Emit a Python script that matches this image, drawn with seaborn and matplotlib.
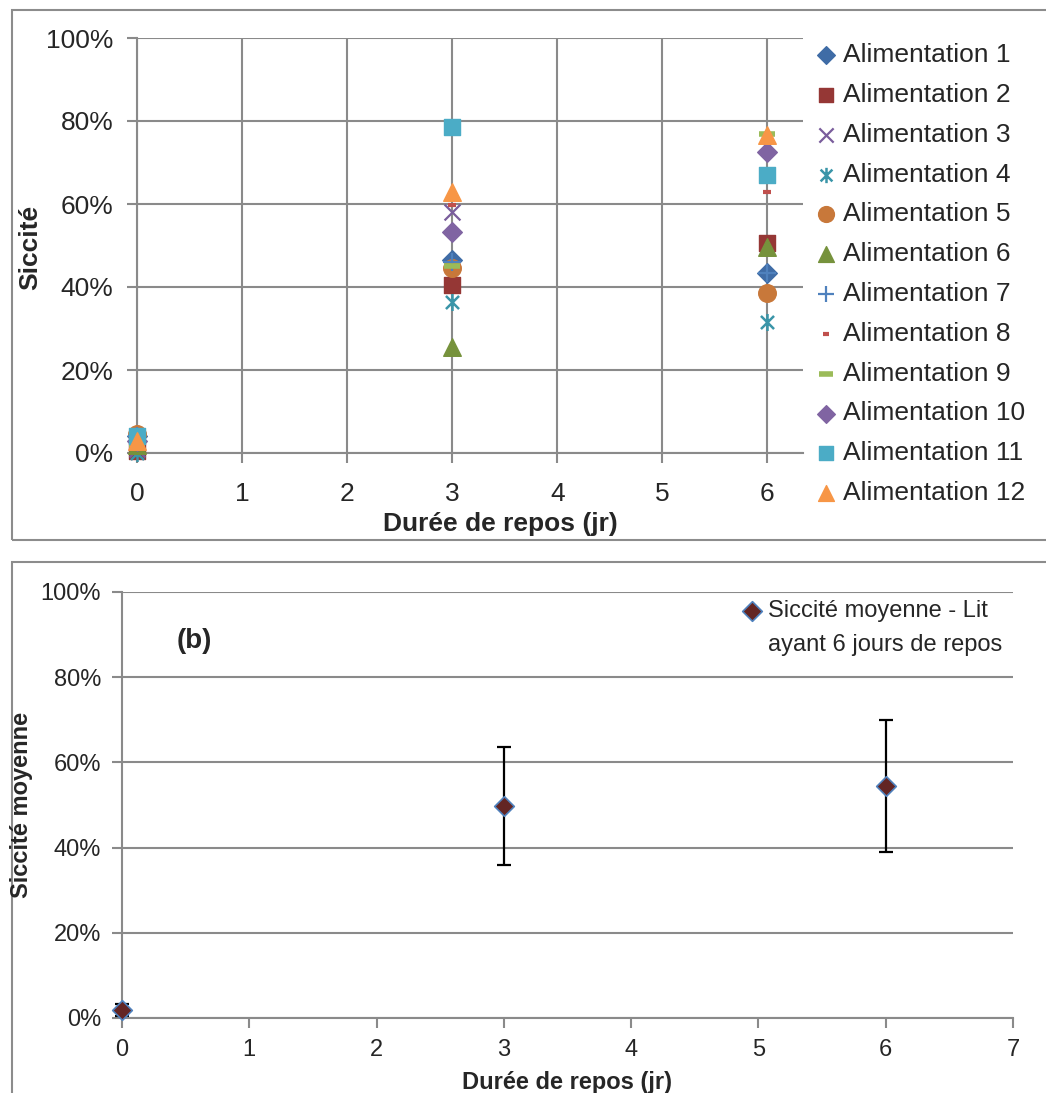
import numpy as np
import matplotlib
matplotlib.use("Agg")
import matplotlib.pyplot as plt
import seaborn as sns
from matplotlib.path import Path
from matplotlib.patches import Rectangle
from matplotlib.ticker import PercentFormatter, MultipleLocator

# durée de repos (jours)
jours = [0, 3, 6]

# siccité (%) par alimentation
alim1 = [4.0, 46.5, 43.4]
alim2 = [0.5, 40.5, 50.6]
alim3 = [1.0, 58.1, np.nan]
alim4 = [0.0, 36.4, 31.6]
alim5 = [4.5, 44.5, 38.6]
alim6 = [2.0, 25.5, 49.7]
alim7 = [4.0, 46.0, 43.4]
alim8 = [1.0, 59.8, 63.0]
alim9 = [2.0, 45.0, 76.9]
alim10 = [3.0, 53.2, 72.5]
alim11 = [4.0, 78.5, 67.0]
alim12 = [3.0, 62.9, 76.6]
series = [alim1, alim2, alim3, alim4, alim5, alim6,
          alim7, alim8, alim9, alim10, alim11, alim12]
labels = ["Alimentation %d" % i for i in range(1, 13)]

# siccité moyenne - lit ayant 6 jours de repos
moy_jours = [0, 3, 6]
moy_sicc = [1.9, 49.8, 54.5]
moy_err = [1.5, 13.8, 15.5]

W, H = 1046, 1093
sns.set_theme(style="white")
plt.rcParams['font.family'] = ['Liberation Sans', 'DejaVu Sans']

star = Path([(-1, -1), (1, 1), (-1, 1), (1, -1), (0, -1.3), (0, 1.3)],
            [Path.MOVETO, Path.LINETO] * 3)

# marker, couleur, taille, epaisseur
styles = [
    ("D", "#3F6CA6", 100, 1),
    ("s", "#953735", 140, 1),
    ("x", "#7A5D9C", 130, 1.6),
    (star, "#3A95A8", 150, 1.8),
    ("o", "#C8783A", 160, 1),
    ("^", "#76923C", 160, 1),
    ("+", "#4F81BD", 170, 1.6),
    ("_", "#C0504D", 30, 3),
    ("_", "#9BBB59", 120, 4),
    ("D", "#8064A2", 100, 1),
    ("s", "#4BACC6", 140, 1),
    ("^", "#F79646", 160, 1),
]

grid_c = "#8a8a8a"
fig = plt.figure(figsize=(W / 100, H / 100), dpi=100)

# ---- panneau (a)
ax1 = fig.add_axes([137 / W, 1 - 453 / H, (803 - 137) / W, 415 / H])
for vals, lab, (m, c, s, lw) in zip(series, labels, styles):
    kw = dict(marker=m, s=s, linewidth=lw, zorder=3)
    if m not in ("x", "+", "_"):
        kw["edgecolor"] = c
    sns.scatterplot(x=jours, y=vals, color=c, label=lab, ax=ax1, **kw)
for coll in ax1.collections:
    coll.set_clip_on(False)

ax1.set_xlim(0, 6.34)
ax1.set_ylim(0, 100)
ax1.xaxis.set_major_locator(MultipleLocator(1))
ax1.yaxis.set_major_locator(MultipleLocator(20))
ax1.yaxis.set_major_formatter(PercentFormatter(100, decimals=0))
ax1.grid(True, color=grid_c, lw=1.5)
for sp in ["top", "right"]:
    ax1.spines[sp].set_visible(False)
for sp in ["left", "bottom"]:
    ax1.spines[sp].set_color(grid_c)
    ax1.spines[sp].set_linewidth(1.5)
ax1.tick_params(axis="both", direction="out", length=7, width=1.5, color=grid_c,
                labelsize=19, left=True, bottom=True)
ax1.tick_params(axis="y", pad=10)
ax1.tick_params(axis="x", pad=14)
ax1.set_xlabel("")
ax1.set_ylabel("")
ax1.get_legend().remove()
fig.text(500 / W, 1 - 524 / H, "Durée de repos (jr)", fontsize=19, fontweight="bold",
         ha="center", va="center")
fig.text(30 / W, 1 - 247 / H, "Siccité", fontsize=19, fontweight="bold",
         rotation=90, ha="center", va="center")
h, l = ax1.get_legend_handles_labels()
fig.legend(h, l, loc="upper left", bbox_to_anchor=(814 / W, 1 - 43 / H),
           frameon=False, fontsize=19, handlelength=0.9, handletextpad=0.2,
           borderpad=0, borderaxespad=0, labelspacing=0.6, markerscale=0.9)

# ---- panneau (b)
ax2 = fig.add_axes([122 / W, 1 - 1018 / H, 891 / W, 426 / H])
eb = ax2.errorbar(moy_jours, moy_sicc, yerr=moy_err, fmt="none", ecolor="black",
                  elinewidth=1.6, capsize=5, capthick=1.6, zorder=2)
sns.scatterplot(x=moy_jours, y=moy_sicc, marker="D", s=100, color="#632523",
                edgecolor="#4F81BD", linewidth=1.2, zorder=3,
                label="Siccité moyenne - Lit", ax=ax2)
for art in ax2.collections + list(eb.lines[1]):
    art.set_clip_on(False)
ax2.set_xlim(0, 7)
ax2.set_ylim(0, 100)
ax2.xaxis.set_major_locator(MultipleLocator(1))
ax2.yaxis.set_major_locator(MultipleLocator(20))
ax2.yaxis.set_major_formatter(PercentFormatter(100, decimals=0))
ax2.grid(True, axis="y", color=grid_c, lw=1.5)
for sp in ["top", "right"]:
    ax2.spines[sp].set_visible(False)
for sp in ["left", "bottom"]:
    ax2.spines[sp].set_color(grid_c)
    ax2.spines[sp].set_linewidth(1.5)
ax2.tick_params(axis="both", direction="out", length=7, width=1.5, color=grid_c,
                labelsize=17, pad=8, left=True, bottom=True)
ax2.set_xlabel("")
ax2.set_ylabel("")
ax2.text(0.57, 88.5, "(b)", fontsize=20, fontweight="bold", ha="center", va="center")
ax2.legend(loc="upper left", bbox_to_anchor=(740 / W, 1 - 600 / H),
           bbox_transform=fig.transFigure, frameon=False, fontsize=17,
           handlelength=1.0, handletextpad=0.2, borderpad=0, borderaxespad=0)
fig.text(768 / W, 1 - 645 / H, "ayant 6 jours de repos", fontsize=17,
         ha="left", va="center")
fig.text(567 / W, 1 - 1082 / H, "Durée de repos (jr)", fontsize=17, fontweight="bold",
         ha="center", va="center")
fig.text(22 / W, 1 - 805 / H, "Siccité moyenne", fontsize=17, fontweight="bold",
         rotation=90, ha="center", va="center")

# cadres des deux graphiques
fig.add_artist(Rectangle((12 / W, 1 - 540 / H), 1.1, 530 / H, transform=fig.transFigure,
                         fill=False, ec="#8c8c8c", lw=1.5))
fig.add_artist(Rectangle((12 / W, -0.1), 1.1, (1 - 562 / H) + 0.1,
                         transform=fig.transFigure, fill=False, ec="#8c8c8c", lw=1.5))

fig.savefig("out.png", dpi=100)
